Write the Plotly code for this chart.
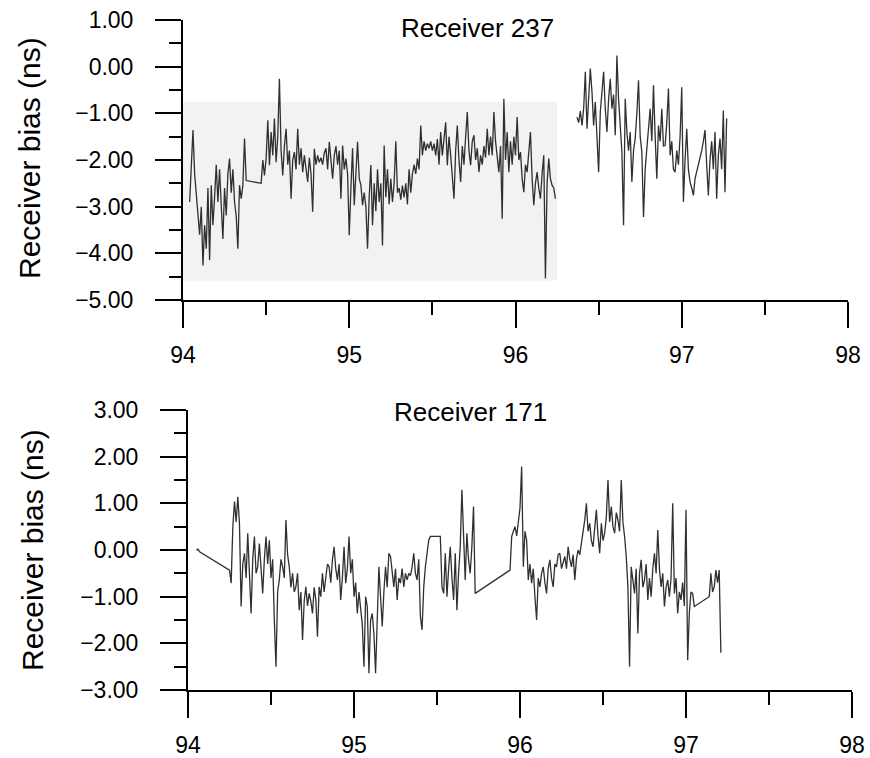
import numpy as np
import plotly.graph_objects as go

N = None

# ---------------- Receiver 237 (top panel) ----------------
# segment A: samples every 0.01 yr starting at 94.04
R237_A_START = 94.04
R237_A = [
    -2.90, -2.20, -1.36, -2.30, -2.69, -3.20, -3.60, -3.00, -4.26, -3.40,
    -3.90, -2.60, -4.15, -2.54, -3.40, -2.80, -2.10, -2.90, -2.20, -2.97,
    -3.69, -2.60, -3.19, -2.30, -1.97, -2.70, -2.20, -2.90, -3.20, -3.90,
    -2.54, -2.83, -2.55, -1.54, -2.44, N, N, N, N, N,
    N, N, N, -2.50, -2.00, -2.33, -1.97, -1.15, -2.11, -1.40,
    -1.90, -1.11, -2.05, -1.50, -0.26, -1.80, -2.33, -1.70, -1.33, -2.10,
    -1.80, -2.83, -2.00, -1.83, -2.20, -1.33, -2.10, -1.75, -2.26, -1.90,
    -2.20, -2.47, -1.95, -2.30, -3.11, -1.76, -2.10, -1.90, -2.05, -1.95,
    -2.10, -1.85, -1.75, -2.20, -1.61, -2.10, -2.40, -1.90, -1.70, -2.10,
    -1.80, -2.83, -1.69, -2.20, -1.97, -2.30, -3.61, -2.60, -1.75, -2.97,
    -2.30, -1.61, -2.40, -2.54, -2.97, -2.70, -3.00, -3.90, -2.80, -2.11,
    -3.40, -2.50, -3.10, -2.20, -2.90, -2.50, -3.83, -1.69, -2.80, -2.20,
    -2.95, -2.40, -2.90, -2.50, -1.60, -2.70, -2.60, -2.85, -2.55, -2.80,
    -2.50, -2.95, -2.20, -2.70, -2.30, -2.10, -2.30, -1.97, -2.20, -1.26,
    -1.90, -1.60, -1.80, -1.65, -1.75, -1.60, -1.80, -1.65, -1.90, -1.55,
    -2.10, -1.40, -1.90, -1.60, -1.19, -2.11, -1.50, -1.90, -2.30, -2.83,
    -1.80, -1.26, -2.00, -2.47, -1.70, -2.10, -1.50, -0.97, -1.80, -2.11,
    -1.60, -1.47, -2.00, -1.75, -2.26, -1.90, -2.10, -1.70, -1.95, -1.33,
    -1.90, -1.50, -1.90, -0.97, -1.60, -1.90, -2.26, -1.70, -3.26, -0.69,
    -2.00, -1.40, -2.26, -1.60, -2.10, -1.50, -1.90, -1.08, -2.00, -1.83,
    -2.40, -2.69, -2.10, -2.26, -1.90, -1.40, -2.40, -2.97, -2.50, -2.26,
    -2.60, -2.83, -2.30, -1.90, -4.54, -2.50, -1.97, -2.40, -2.54, -2.60,
    -2.83,
]
# segment B: after the data gap, starting at 96.37
R237_B_START = 96.37
R237_B = [
    -1.08, -1.20, -0.95, -1.26, -0.90, -0.11, -1.33, -0.60, -0.04, -0.54,
    -1.26, -0.76, -1.69, -2.26, -0.97, -0.60, -0.11, -0.90, -1.40, -0.70,
    -0.26, -0.90, -0.60, -1.47, 0.24, -0.69, -1.20, -1.83, -3.40, -0.69,
    -1.40, -1.80, -1.40, -2.47, -1.80, -1.54, -1.00, -0.29, -1.50, -1.83,
    -3.22, -2.20, -1.76, -1.30, -0.90, -1.60, -0.40, -1.50, -2.40, -1.26,
    -1.60, -0.90, -1.70, -1.69, -1.20, -0.47, -1.90, -1.60, -2.20, -2.26,
    -1.80, -2.10, -1.50, -0.44, -2.90, -2.00, -1.33, -2.20, -2.47, -2.60,
    -2.76, -2.40, -2.26, -2.10, -1.97, -1.80, -1.60, -1.36, -2.10, -2.76,
    -2.00, -1.60, -2.20, -1.40, -2.83, -1.90, -1.54, -2.20, -0.94, -2.69,
    -1.11,
]

# ---------------- Receiver 171 (bottom panel) ----------------
R171_START = 94.05
R171 = [
    0.00, 0.02, -0.04, N, N, N, N, N, N, N,
    N, N, N, N, N, N, N, N, N, N,
    -0.43, -0.71, 0.50, 1.04, 0.60, 1.14, 0.57, -1.21, -0.30, -0.07,
    -0.60, 0.36, -0.50, -1.36, -0.20, 0.29, -0.50, -0.36, 0.14, -0.50,
    -0.93, -0.20, 0.29, -0.30, 0.21, -0.60, -0.20, -1.50, -2.50, -0.90,
    -0.64, -0.20, -0.36, -0.60, 0.64, -0.10, -0.36, -0.80, -0.50, -0.90,
    -0.79, -0.50, -1.29, -0.90, -1.93, -1.10, -0.79, -1.20, -0.93, -1.10,
    -1.36, -0.80, -1.07, -1.86, -0.79, -1.00, -0.50, -0.90, -0.64, -0.30,
    -0.36, -0.70, -0.21, 0.07, -0.40, -0.64, -0.30, -1.07, -0.60, 0.07,
    -0.71, -0.40, 0.29, -0.50, -0.20, -1.00, -0.70, -1.36, -0.90, -1.21,
    -1.60, -2.50, -1.00, -1.21, -2.64, -1.50, -1.36, -1.80, -2.64, -1.50,
    -0.36, -1.00, -1.64, -0.90, -0.36, -0.80, -0.07, -0.14, -0.50, -0.79,
    -0.40, -1.07, -0.60, -0.71, -0.40, -0.79, -0.50, -0.64, -0.50, -0.55,
    -0.36, -0.07, -0.50, -0.64, -0.20, -1.43, -1.71, -0.80, -0.36, -0.10,
    0.21, 0.29, N, N, N, N, N, 0.29, -0.79, -0.93,
    -0.07, -1.00, -0.40, 0.07, -0.60, -1.07, -0.07, -1.29, -0.50, 0.07,
    1.29, 0.20, -0.64, 0.36, -0.21, -0.50, 0.07, 0.93, -0.93, N,
    N, N, N, N, N, N, N, N, N, N,
    N, N, N, N, N, N, N, N, N, -0.43,
    0.29, 0.40, 0.50, 0.30, 0.64, 0.90, 1.79, -0.36, 0.40, 0.21,
    -0.64, -0.30, -0.71, -0.40, -1.00, -1.50, -0.60, -0.79, -0.50, -0.36,
    -0.70, -0.93, -0.40, -0.21, -0.60, -0.79, -0.30, -0.36, -0.10, -0.07,
    -0.40, -0.29, -0.14, -0.40, 0.07, -0.20, -0.36, -0.10, -0.64, -0.20,
    0.00, -0.10, 0.14, 0.30, 0.64, 1.00, 0.40, 0.57, 0.20, 0.07,
    0.40, 0.86, 0.30, -0.07, 0.57, 0.20, 0.36, 0.70, 1.50, 0.60,
    0.93, 0.50, 0.36, 0.80, 0.64, 0.40, 1.50, 0.60, 0.29, -0.14,
    -0.79, -2.50, -0.36, -0.60, -0.93, -0.40, -1.79, -0.50, -0.21, -0.80,
    -0.64, -0.30, -1.07, -0.60, -1.00, -0.40, -0.07, -0.50, 0.43, -0.40,
    -0.79, -0.50, -1.21, -0.80, -0.64, -1.00, -0.60, 1.00, -0.93, -0.60,
    -1.36, -0.90, -1.07, -0.70, -1.20, 0.86, -2.36, -1.36, -0.90, -0.93,
    -1.21, N, N, N, N, N, N, N, N, -1.00,
    -0.50, -0.90, -0.79, -0.43, -0.70, -0.43, -2.20,
]

X_TICKS = [94, 95, 96, 97, 98]
Y_TICKS_TOP = [-5, -4, -3, -2, -1, 0, 1]
Y_TICKS_BOT = [-3, -2, -1, 0, 1, 2, 3]
TITLE_TOP = "Receiver 237"
TITLE_BOT = "Receiver 171"
Y_TITLE = "Receiver bias (ns)"


def xs(start, vals):
    return [round(start + 0.01 * i, 2) for i in range(len(vals))]


W, H = 870, 758
FONT = "Arial, Liberation Sans, sans-serif"
LINE = dict(color="rgba(25,25,25,0.9)", width=1.3)

fig = go.Figure()
fig.add_trace(go.Scatter(x=xs(R237_A_START, R237_A), y=R237_A, mode="lines",
                         line=LINE, connectgaps=True, xaxis="x", yaxis="y",
                         showlegend=False))
fig.add_trace(go.Scatter(x=xs(R237_B_START, R237_B), y=R237_B, mode="lines",
                         line=LINE, connectgaps=True, xaxis="x", yaxis="y",
                         showlegend=False))
fig.add_trace(go.Scatter(x=xs(R171_START, R171), y=R171, mode="lines",
                         line=LINE, connectgaps=True, xaxis="x2", yaxis="y2",
                         showlegend=False))


def px_x(p):
    return p / W


def px_y(p):
    return 1 - p / H


tickfont = dict(family=FONT, size=23, color="black")
xcommon = dict(range=[94, 98], tickvals=X_TICKS, ticktext=[str(v) for v in X_TICKS],
               ticks="outside", ticklen=26, tickwidth=1.5, tickcolor="black",
               showline=True, linecolor="black", linewidth=2, showgrid=False,
               zeroline=False, tickfont=tickfont, ticklabelstandoff=7,
               automargin=False,
               minor=dict(dtick=0.5, ticks="outside", ticklen=13, tickwidth=1.5,
                          tickcolor="black", showgrid=False))
ycommon = dict(ticks="outside", ticklen=26, tickwidth=1.5, tickcolor="black",
               showline=True, linecolor="black", linewidth=2, showgrid=False,
               zeroline=False, tickfont=tickfont, ticklabelstandoff=17,
               tickformat=".2f", automargin=False,
               minor=dict(dtick=0.5, ticks="outside", ticklen=12, tickwidth=1.5,
                          tickcolor="black", showgrid=False))

fig.update_layout(
    width=W, height=H,
    margin=dict(l=0, r=0, t=0, b=0, autoexpand=False),
    paper_bgcolor="white", plot_bgcolor="white",
    xaxis=dict(domain=[px_x(183), px_x(848)], anchor="y", **xcommon),
    yaxis=dict(domain=[px_y(300), px_y(20)], anchor="x", range=[-5, 1],
               tickvals=Y_TICKS_TOP, **ycommon),
    xaxis2=dict(domain=[px_x(188), px_x(852)], anchor="y2", **xcommon),
    yaxis2=dict(domain=[px_y(690), px_y(410)], anchor="x2", range=[-3, 3],
                tickvals=Y_TICKS_BOT, **ycommon),
    shapes=[dict(type="rect", xref="x", yref="y", x0=94.0, x1=96.25,
                 y0=-4.58, y1=-0.75, fillcolor="#f2f2f2", line=dict(width=0),
                 layer="below")],
    annotations=[
        dict(text=TITLE_TOP, x=px_x(477), y=px_y(28), xref="paper", yref="paper",
             xanchor="center", yanchor="middle", showarrow=False,
             font=dict(family=FONT, size=26, color="black")),
        dict(text=TITLE_BOT, x=px_x(470), y=px_y(412), xref="paper", yref="paper",
             xanchor="center", yanchor="middle", showarrow=False,
             font=dict(family=FONT, size=26, color="black")),
        dict(text=Y_TITLE, x=px_x(30), y=px_y(158), xref="paper", yref="paper",
             xanchor="center", yanchor="middle", showarrow=False, textangle=-90,
             font=dict(family=FONT, size=30, color="black")),
        dict(text=Y_TITLE, x=px_x(32), y=px_y(550), xref="paper", yref="paper",
             xanchor="center", yanchor="middle", showarrow=False, textangle=-90,
             font=dict(family=FONT, size=30, color="black")),
    ],
)

fig.write_html("out.html",
               config={"displayModeBar": False},
               post_script="document.body.style.margin='0';"
                           "document.body.style.overflow='hidden';")
